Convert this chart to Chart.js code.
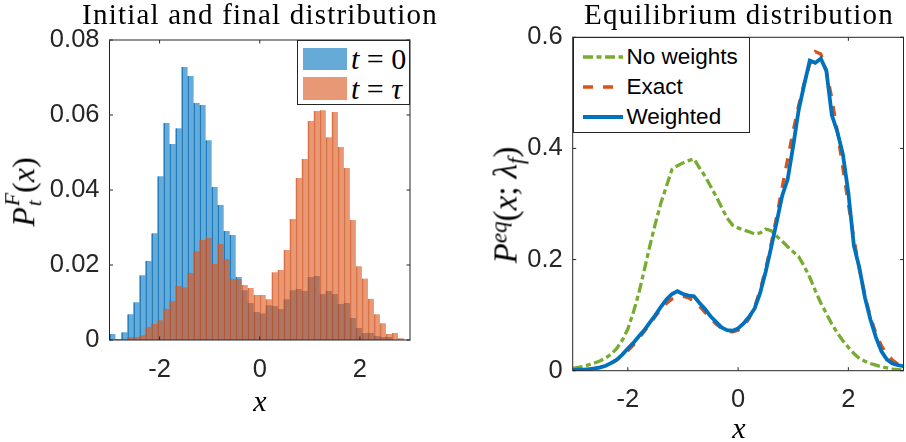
<!DOCTYPE html>
<html>
<head>
<meta charset="utf-8">
<script src="https://cdn.jsdelivr.net/npm/chart.js@4.4.1/dist/chart.umd.min.js"></script>
<style>
  body { margin: 0; background: #fff; }
  #fig { position: relative; width: 906px; height: 442px; overflow: hidden; font-family: "Liberation Serif", "Times New Roman", serif; color: #000; }
  canvas { position: absolute; }
  .t { position: absolute; white-space: nowrap; transform: translate(-50%, -50%); line-height: 1; }
  .title { font-size: 29px; letter-spacing: 1.2px; }
  .math { font-size: 30px; }
  .rot { transform: translate(-50%, -50%) rotate(-90deg); }
  .ss { display: inline-block; vertical-align: -0.3em; font-size: 0.68em; line-height: 1; margin-left: 1px; }
  .ss span { display: block; }
  .sup { font-size: 0.7em; position: relative; top: -0.45em; }
  .sub { font-size: 0.7em; position: relative; top: 0.3em; }
  .legend { position: absolute; box-sizing: border-box; border: 1px solid #262626; background: #fff; }
  .legend .item { position: absolute; white-space: nowrap; transform: translateY(-50%); line-height: 1; }
  .legend .sw { position: absolute; }
  .legend svg { position: absolute; overflow: visible; }
</style>
</head>
<body>
<div id="fig">
  <canvas id="hist" width="420" height="400" style="left:0;top:0"></canvas>
  <canvas id="eq" width="453" height="442" style="left:453px;top:0"></canvas>

  <div class="t title" style="left:260px;top:14px">Initial and final distribution</div>
  <div class="t title" style="left:739px;top:14px">Equilibrium distribution</div>
  <div class="t math" style="left:260px;top:401px"><i>x</i></div>
  <div class="t math" style="left:739px;top:428px"><i>x</i></div>
  <div class="t math rot" style="left:24px;top:192px;font-size:32px"><i>P</i><span class="ss"><span><i>F</i></span><span><i>t</i></span></span>(<i>x</i>)</div>
  <div class="t math rot" style="left:506px;top:205px;font-size:33px"><i>P</i><span class="sup"><i>eq</i></span>(<i>x</i>; <i>λ</i><span class="sub"><i>f</i></span>)</div>

  <div class="legend" id="histLegend" style="left:297px;top:40px;width:113px;height:65px"></div>
  <div class="legend" id="eqLegend" style="left:572.5px;top:36.5px;width:177px;height:96px"></div>
</div>
<script>
// Left panel: histograms of x at t = 0 and t = tau (bin width 0.12)
const binCenters = [-2.94, -2.82, -2.70, -2.58, -2.46, -2.34, -2.22, -2.10, -1.98, -1.86,
  -1.74, -1.62, -1.50, -1.38, -1.26, -1.14, -1.02, -0.90, -0.78, -0.66,
  -0.54, -0.42, -0.30, -0.18, -0.06, 0.06, 0.18, 0.30, 0.42, 0.54,
  0.66, 0.78, 0.90, 1.02, 1.14, 1.26, 1.38, 1.50, 1.62, 1.74,
  1.86, 1.98, 2.10, 2.22, 2.34, 2.46, 2.58, 2.70, 2.82, 2.94];
const probT0 = [0.0016, 0.0003, 0.0021, 0.0069, 0.0101, 0.0173, 0.0211, 0.0285, 0.0437, 0.0579,
  0.0523, 0.0565, 0.0728, 0.0704, 0.0632, 0.0627, 0.0533, 0.0408, 0.0360, 0.0291,
  0.0280, 0.0168, 0.0133, 0.0099, 0.0075, 0.0071, 0.0093, 0.0091, 0.0083, 0.0109,
  0.0133, 0.0136, 0.0131, 0.0168, 0.0171, 0.0123, 0.0131, 0.0123, 0.0096, 0.0099,
  0.0059, 0.0032, 0.0019, 0.0019, 0.0011, 0.0008, 0.0008, 0, 0, 0];
const probTau = [0, 0.0001, 0.0003, 0.0008, 0.0008, 0.0013, 0.0035, 0.0043, 0.0053, 0.0083,
  0.0104, 0.0144, 0.0141, 0.0179, 0.0237, 0.0267, 0.0272, 0.0203, 0.0256, 0.0216,
  0.0163, 0.0163, 0.0147, 0.0139, 0.0120, 0.0120, 0.0109, 0.0181, 0.0187, 0.0240,
  0.0323, 0.0432, 0.0483, 0.0584, 0.0611, 0.0613, 0.0541, 0.0608, 0.0515, 0.0459,
  0.0320, 0.0197, 0.0164, 0.0110, 0.0069, 0.0045, 0.0016, 0.0019, 0.0005, 0];
const histXTicks = [-2, 0, 2];
const histYTicks = [0, 0.02, 0.04, 0.06, 0.08];
const histYLabels = ['0', '0.02', '0.04', '0.06', '0.08'];

// Right panel: equilibrium distribution estimates
const xEq = [-3.0, -2.9, -2.8, -2.7, -2.6, -2.5, -2.4, -2.3, -2.2, -2.1,
  -2.0, -1.9, -1.8, -1.7, -1.6, -1.5, -1.4, -1.3, -1.2, -1.1,
  -1.0, -0.9, -0.8, -0.7, -0.6, -0.5, -0.4, -0.3, -0.2, -0.1,
  0.0, 0.1, 0.2, 0.3, 0.4, 0.5, 0.6, 0.7, 0.8, 0.9,
  1.0, 1.1, 1.2, 1.3, 1.4, 1.5, 1.6, 1.7, 1.8, 1.9,
  2.0, 2.1, 2.2, 2.3, 2.4, 2.5, 2.6, 2.7, 2.8, 2.9, 3.0];
const pNoWeights = [0.004, 0.006, 0.008, 0.011, 0.014, 0.018, 0.023, 0.030, 0.040, 0.055,
  0.075, 0.105, 0.140, 0.182, 0.225, 0.265, 0.302, 0.332, 0.362, 0.369,
  0.374, 0.378, 0.381, 0.365, 0.350, 0.332, 0.314, 0.294, 0.275, 0.262,
  0.257, 0.253, 0.250, 0.246, 0.248, 0.255, 0.252, 0.242, 0.233, 0.223,
  0.214, 0.205, 0.188, 0.168, 0.144, 0.122, 0.103, 0.084, 0.068, 0.054,
  0.042, 0.031, 0.022, 0.017, 0.013, 0.010, 0.007, 0.005, 0.003, 0.002, 0.001];
const pExact = [0.001, 0.001, 0.002, 0.003, 0.004, 0.006, 0.009, 0.013, 0.019, 0.027,
  0.036, 0.046, 0.058, 0.071, 0.084, 0.098, 0.111, 0.121, 0.129, 0.133,
  0.134, 0.131, 0.125, 0.116, 0.105, 0.094, 0.084, 0.076, 0.071, 0.070,
  0.073, 0.080, 0.094, 0.115, 0.145, 0.183, 0.228, 0.278, 0.330, 0.382,
  0.432, 0.478, 0.518, 0.552, 0.574, 0.570, 0.540, 0.490, 0.430, 0.365,
  0.300, 0.238, 0.182, 0.135, 0.097, 0.067, 0.045, 0.030, 0.019, 0.012, 0.008];
const pWeighted = [0.001, 0.002, 0.002, 0.003, 0.004, 0.006, 0.009, 0.014, 0.020, 0.029,
  0.040, 0.050, 0.062, 0.073, 0.087, 0.100, 0.115, 0.128, 0.138, 0.143,
  0.138, 0.135, 0.134, 0.122, 0.111, 0.098, 0.088, 0.078, 0.073, 0.072,
  0.076, 0.085, 0.097, 0.112, 0.140, 0.178, 0.222, 0.268, 0.315, 0.345,
  0.405, 0.470, 0.515, 0.558, 0.554, 0.562, 0.540, 0.460, 0.430, 0.390,
  0.320, 0.225, 0.185, 0.132, 0.092, 0.060, 0.035, 0.020, 0.013, 0.010, 0.008];
const eqXTicks = [-2, 0, 2];
const eqYTicks = [0, 0.2, 0.4, 0.6];
const eqYLabels = ['0', '0.2', '0.4', '0.6'];

Chart.defaults.font.family = '"Liberation Sans", Arial, sans-serif';
Chart.defaults.font.size = 25.5;
Chart.defaults.color = '#262626';
Chart.defaults.animation = false;
Chart.defaults.plugins.legend.display = false;
Chart.defaults.plugins.tooltip.enabled = false;

// matlab style box with inward ticks on all four sides
const boxPlugin = {
  id: 'box',
  afterDatasetsDraw(chart) {
    const {ctx, chartArea: a, scales: {x, y}} = chart;
    const tl = 3.5;
    ctx.save();
    ctx.strokeStyle = '#262626';
    ctx.lineWidth = 1;
    ctx.beginPath();
    x.ticks.forEach(t => {
      const px = x.getPixelForValue(t.value);
      ctx.moveTo(px, a.bottom); ctx.lineTo(px, a.bottom - tl);
      ctx.moveTo(px, a.top); ctx.lineTo(px, a.top + tl);
    });
    y.ticks.forEach(t => {
      const py = y.getPixelForValue(t.value);
      ctx.moveTo(a.left, py); ctx.lineTo(a.left + tl, py);
      ctx.moveTo(a.right, py); ctx.lineTo(a.right - tl, py);
    });
    ctx.stroke();
    ctx.strokeRect(a.left, a.top, a.right - a.left, a.bottom - a.top);
    ctx.restore();
  }
};

function axes(xTicks, yTicks, yLabels, yMax, yWidth, xHeight, xPad) {
  return {
    x: {
      type: 'linear', min: -3, max: 3, offset: false,
      grid: {display: false, drawTicks: false}, border: {display: false},
      afterBuildTicks: s => { s.ticks = xTicks.map(v => ({value: v})); },
      ticks: {padding: xPad, autoSkip: false, maxRotation: 0, callback: v => String(v)},
      afterFit: s => { s.height = xHeight; }
    },
    y: {
      type: 'linear', min: 0, max: yMax,
      grid: {display: false, drawTicks: false}, border: {display: false},
      afterBuildTicks: s => { s.ticks = yTicks.map(v => ({value: v})); },
      ticks: {padding: 10, autoSkip: false, callback: (v, i) => yLabels[i]},
      afterFit: s => { s.width = yWidth; }
    }
  };
}

const histChart = new Chart(document.getElementById('hist'), {
  type: 'bar',
  data: {
    datasets: [{
      label: 't = 0',
      data: binCenters.map((c, i) => ({x: c, y: probT0[i]})),
      backgroundColor: 'rgba(0,114,189,0.6)',
      borderColor: 'rgba(0,104,180,0.85)',
      borderWidth: {left: 1, right: 0, top: 0, bottom: 0},
      grouped: false, barPercentage: 1, categoryPercentage: 1, order: 1
    }, {
      label: 't = τ',
      data: binCenters.map((c, i) => ({x: c, y: probTau[i]})),
      backgroundColor: 'rgba(217,83,25,0.6)',
      borderColor: 'rgba(210,80,25,0.75)',
      borderWidth: {left: 1, right: 0, top: 0, bottom: 0},
      grouped: false, barPercentage: 1, categoryPercentage: 1, order: 0
    }]
  },
  options: {
    responsive: false,
    layout: {padding: {top: 40, right: 10, left: 0, bottom: 0}},
    scales: axes(histXTicks, histYTicks, histYLabels, 0.08, 109.5, 60, 15)
  },
  plugins: [boxPlugin]
});

const eqChart = new Chart(document.getElementById('eq'), {
  type: 'line',
  data: {
    datasets: [{
      label: 'No weights',
      data: xEq.map((x, i) => ({x, y: pNoWeights[i]})),
      borderColor: 'rgb(119,172,48)', borderWidth: 3.3, borderDash: [10, 3.5, 5, 3.5],
      pointRadius: 0, tension: 0, order: 2
    }, {
      label: 'Exact',
      data: xEq.map((x, i) => ({x, y: pExact[i]})),
      borderColor: 'rgb(217,83,25)', borderWidth: 3.3, borderDash: [10, 10],
      pointRadius: 0, tension: 0, order: 1
    }, {
      label: 'Weighted',
      data: xEq.map((x, i) => ({x, y: pWeighted[i]})),
      borderColor: 'rgb(0,114,189)', borderWidth: 3.8, borderDash: [],
      pointRadius: 0, tension: 0, order: 0
    }]
  },
  options: {
    responsive: false,
    layout: {padding: {top: 37.3, right: 2.5, left: 0, bottom: 0}},
    scales: axes(eqXTicks, eqYTicks, eqYLabels, 0.6, 119.7, 71.3, 14)
  },
  plugins: [boxPlugin]
});

// legends, built from the dataset styles
const histLegendText = ['<i>t</i> = 0', '<i>t</i> = <i>τ</i>'];
const histLegend = document.getElementById('histLegend');
histChart.data.datasets.forEach((ds, i) => {
  const top = 6.5 + i * 29.5;
  histLegend.insertAdjacentHTML('beforeend',
    `<div class="sw" style="left:5px;top:${top}px;width:44px;height:22.5px;background:${ds.backgroundColor}"></div>` +
    `<div class="item math" style="left:53px;top:${top + 11.5}px">${histLegendText[i]}</div>`);
});

const eqLegend = document.getElementById('eqLegend');
eqChart.data.datasets.forEach((ds, i) => {
  const cy = 19.5 + i * 30;
  const dash = ds.borderDash.length ? ds.borderDash.join(' ') : 'none';
  eqLegend.insertAdjacentHTML('beforeend',
    `<svg width="40" height="6" style="left:9px;top:${cy - 3}px"><line x1="0" y1="3" x2="40" y2="3" stroke="${ds.borderColor}" stroke-width="${ds.borderWidth}" stroke-dasharray="${dash}"/></svg>` +
    `<div class="item" style="left:53px;top:${cy}px;font:22.5px 'Liberation Sans', Arial, sans-serif">${ds.label}</div>`);
});
</script>
</body>
</html>
